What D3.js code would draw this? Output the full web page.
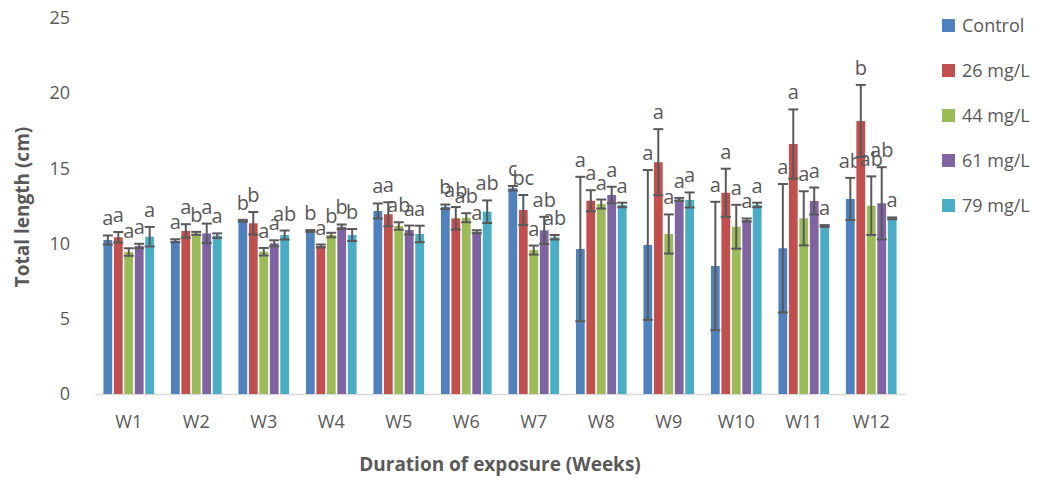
<!DOCTYPE html>
<html>
<head>
<meta charset="utf-8">
<script src="https://d3js.org/d3.v7.min.js"></script>
<style>
    body { margin: 0; background: #fff; }
    text { font-family: "Open Sans", "Noto Sans", sans-serif; fill: #595959; }
</style>
</head>
<body>
<div id="chart"></div>
<script>
    const weeks = ["W1", "W2", "W3", "W4", "W5", "W6", "W7", "W8", "W9", "W10", "W11", "W12"]
    const seriesNames = ["Control", "26 mg/L", "44 mg/L", "61 mg/L", "79 mg/L"]
    const yTicks = [0, 5, 10, 15, 20, 25]

    // mean total length per week, one array per treatment
    const control = [10.24, 10.19, 11.52, 10.84, 12.17, 12.45, 13.68, 9.64, 9.91, 8.51, 9.69, 12.97]
    const mg26 = [10.42, 10.84, 11.35, 9.84, 11.95, 11.68, 12.23, 12.85, 15.41, 13.38, 16.62, 18.15]
    const mg44 = [9.44, 10.68, 9.46, 10.57, 11.17, 11.72, 9.57, 12.63, 10.64, 11.12, 11.68, 12.52]
    const mg61 = [9.84, 10.68, 10.02, 11.12, 10.9, 10.79, 10.88, 13.23, 12.94, 11.57, 12.83, 12.68]
    const mg79 = [10.46, 10.53, 10.57, 10.57, 10.64, 12.12, 10.42, 12.57, 12.9, 12.57, 11.17, 11.68]

    // error (+/-)
    const errControl = [0.3, 0.1, 0.06, 0.06, 0.5, 0.15, 0.15, 4.8, 4.98, 4.27, 4.27, 1.4]
    const err26 = [0.35, 0.45, 0.75, 0.1, 0.8, 0.75, 1.0, 0.7, 2.2, 1.6, 2.3, 2.4]
    const err44 = [0.25, 0.1, 0.25, 0.15, 0.25, 0.3, 0.3, 0.3, 1.3, 1.46, 1.8, 1.95]
    const err61 = [0.15, 0.65, 0.2, 0.15, 0.3, 0.1, 0.9, 0.55, 0.1, 0.1, 0.9, 2.4]
    const err79 = [0.65, 0.15, 0.3, 0.4, 0.55, 0.75, 0.15, 0.15, 0.5, 0.15, 0.06, 0.06]

    // significance letters
    const lblControl = ["a", "a", "b", "b", "a", "b", "c", "a", "a", "a", "a", "ab"]
    const lbl26 = ["a", "a", "b", "a", "a", "ab", "bc", "a", "a", "a", "a", "b"]
    const lbl44 = ["a", "b", "a", "b", "ab", "ab", "a", "a", "a", "a", "a", "ab"]
    const lbl61 = ["a", "a", "a", "b", "a", "a", "ab", "a", "a", "a", "a", "ab"]
    const lbl79 = ["a", "a", "ab", "b", "a", "ab", "ab", "a", "a", "a", "a", "a"]

    const colors = ["#4F81BD", "#C0504D", "#9BBB59", "#8064A2", "#4BACC6"]

    const width = 1045
    const height = 479
    const plot = { left: 95, right: 905, top: 18, bottom: 394 }

    const means = [control, mg26, mg44, mg61, mg79]
    const errs = [errControl, err26, err44, err61, err79]
    const lbls = [lblControl, lbl26, lbl44, lbl61, lbl79]

    const rows = []
    weeks.forEach((w, i) => {
        seriesNames.forEach((s, j) => {
            rows.push({ week: w, series: s, idx: j, value: means[j][i], err: errs[j][i], label: lbls[j][i] })
        })
    })

    const svg = d3.select("#chart").append("svg").attr("width", width).attr("height", height)

    const x = d3.scaleBand().domain(weeks).range([plot.left, plot.right]).paddingInner(0.25).paddingOuter(0.125)
    const xs = d3.scaleBand().domain(seriesNames).range([0, x.bandwidth()]).paddingInner(0.16)
    const y = d3.scaleLinear().domain([0, 25]).range([plot.bottom, plot.top])

    // y axis labels only
    const yAxis = svg.append("g")
        .attr("transform", "translate(" + (plot.left - 10) + ",0)")
        .call(d3.axisLeft(y).tickValues(yTicks).tickSize(0).tickPadding(15))
    yAxis.select(".domain").remove()
    yAxis.selectAll("text").style("font-size", "18px").style("fill", "#595959")

    // x axis
    const xAxis = svg.append("g")
        .attr("transform", "translate(0," + plot.bottom + ")")
        .call(d3.axisBottom(x).tickSize(0).tickPadding(21))
    xAxis.select(".domain").attr("stroke", "#D9D9D9").attr("stroke-width", 1.5)
    xAxis.selectAll("text").style("font-size", "18px").style("fill", "#595959")

    const groups = svg.append("g").selectAll("g")
        .data(rows)
        .enter()
        .append("g")
        .attr("transform", d => "translate(" + (x(d.week) + xs(d.series)) + ",0)")

    groups.append("rect")
        .attr("x", 0)
        .attr("y", d => y(d.value))
        .attr("width", xs.bandwidth())
        .attr("height", d => y(0) - y(d.value))
        .attr("fill", d => colors[d.idx])

    const bw = xs.bandwidth()
    const cap = 5
    groups.append("line")
        .attr("x1", bw / 2).attr("x2", bw / 2)
        .attr("y1", d => y(d.value + d.err)).attr("y2", d => y(d.value - d.err))
        .attr("stroke", "#595959").attr("stroke-width", 2)
    groups.append("line")
        .attr("x1", bw / 2 - cap).attr("x2", bw / 2 + cap)
        .attr("y1", d => y(d.value + d.err)).attr("y2", d => y(d.value + d.err))
        .attr("stroke", "#595959").attr("stroke-width", 2)
    groups.append("line")
        .attr("x1", bw / 2 - cap).attr("x2", bw / 2 + cap)
        .attr("y1", d => y(d.value - d.err)).attr("y2", d => y(d.value - d.err))
        .attr("stroke", "#595959").attr("stroke-width", 2)

    groups.append("text")
        .attr("x", bw / 2)
        .attr("y", d => y(d.value + d.err) - 10)
        .attr("text-anchor", "middle")
        .style("font-size", "20px")
        .text(d => d.label)

    // legend
    const legend = svg.append("g").selectAll("g")
        .data(seriesNames)
        .enter()
        .append("g")
        .attr("transform", (d, i) => "translate(942," + (26 + i * 45) + ")")
    legend.append("rect")
        .attr("x", 0).attr("y", -7).attr("width", 13).attr("height", 13)
        .attr("fill", (d, i) => colors[i])
    legend.append("text")
        .attr("x", 20).attr("y", 0).attr("dy", "0.35em")
        .style("font-size", "18px")
        .text(d => d)

    // axis titles
    svg.append("text")
        .attr("x", (plot.left + plot.right) / 2)
        .attr("y", 471)
        .attr("text-anchor", "middle")
        .style("font-size", "19px").style("font-weight", "bold")
        .text("Duration of exposure (Weeks)")
    svg.append("text")
        .attr("transform", "translate(29,207) rotate(-90)")
        .attr("text-anchor", "middle")
        .style("font-size", "19px").style("font-weight", "bold")
        .text("Total length (cm)")
</script>
</body>
</html>
